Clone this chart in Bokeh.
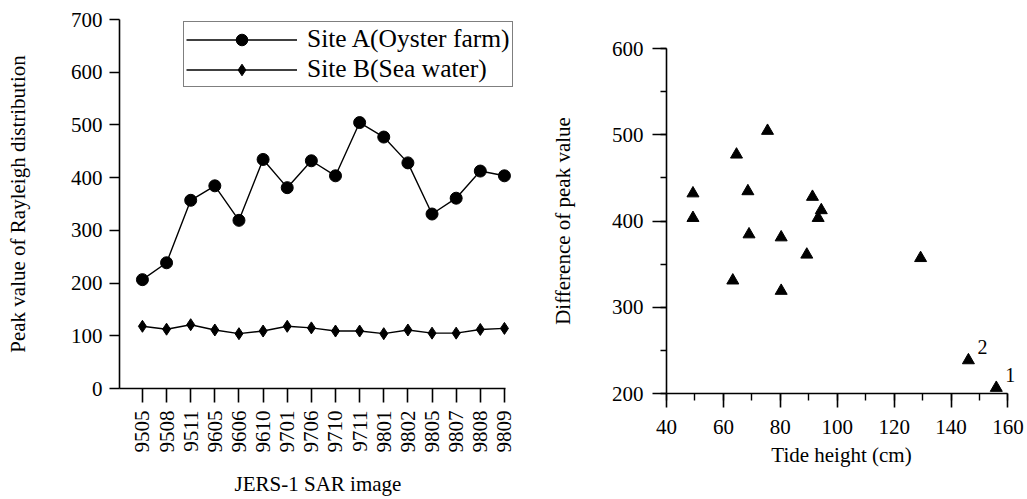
import math
from bokeh.plotting import figure
from bokeh.layouts import row, column
from bokeh.models import (Range1d, FixedTicker, SingleIntervalTicker, Legend,
                          LegendItem, ColumnDataSource, LabelSet)
from bokeh.embed import file_html
from bokeh.resources import INLINE

# ---------------- data ----------------
dates = ["9505", "9508", "9511", "9605", "9606", "9610", "9701", "9706",
         "9710", "9711", "9801", "9802", "9805", "9807", "9808", "9809"]
site_a = [206.5, 238.5, 357, 384.5, 319, 434.5, 381, 432,
          403.5, 504.5, 477, 428, 331, 361, 412.5, 403.5]
site_b = [118, 112.5, 121, 111, 104, 109, 118, 115,
          109, 109, 104, 111, 105, 105, 112, 114]
tide_height = [155.9, 146.1, 129.3, 69.0, 80.3, 68.6, 80.3, 49.3,
               49.3, 75.5, 64.6, 91.3, 63.3, 89.3, 94.4, 93.3]
marked_points = ["1", "2"]

FONT = "'Liberation Serif'"
TICK_FS = "21px"
LABEL_FS = "21px"


def style_axis(ax):
    ax.axis_line_color = "black"
    ax.axis_line_width = 1.6
    ax.major_tick_line_color = "black"
    ax.major_tick_line_width = 1.6
    ax.minor_tick_line_color = "black"
    ax.minor_tick_line_width = 1.4
    ax.major_tick_in = 0
    ax.minor_tick_in = 0
    ax.major_label_text_font = FONT
    ax.major_label_text_font_size = TICK_FS
    ax.major_label_text_color = "black"
    ax.axis_label_text_font = FONT
    ax.axis_label_text_font_size = LABEL_FS
    ax.axis_label_text_font_style = "normal"
    ax.axis_label_text_color = "black"


# ---------------- left chart ----------------
x_idx = list(range(len(dates)))
src = ColumnDataSource(dict(x=x_idx, a=site_a, b=site_b))

p1 = figure(width=520, height=499, x_range=Range1d(-0.95, 15.5),
            y_range=Range1d(0, 700), output_backend="svg",
            toolbar_location=None, min_border_left=119, min_border_right=4,
            min_border_top=19, min_border_bottom=111)
p1.outline_line_color = None
p1.xgrid.visible = False
p1.ygrid.visible = False

la = p1.line("x", "a", source=src, line_color="black", line_width=1.4)
sa = p1.scatter("x", "a", source=src, marker="circle", size=12,
                fill_color="black", line_color="black")
lb = p1.line("x", "b", source=src, line_color="black", line_width=1.4)
sb = p1.scatter("x", "b", source=src, marker="diamond", size=12,
                fill_color="black", line_color="black")

p1.xaxis.ticker = FixedTicker(ticks=x_idx, minor_ticks=[])
p1.xaxis.major_label_overrides = {i: d for i, d in zip(x_idx, dates)}
p1.xaxis.major_label_orientation = math.pi / 2
p1.xaxis.bounds = (-0.95, 15.05)
p1.yaxis.ticker = FixedTicker(ticks=list(range(0, 701, 100)), minor_ticks=[])
for ax in (p1.xaxis[0], p1.yaxis[0]):
    style_axis(ax)
p1.xaxis.major_tick_out = 14
p1.yaxis.major_tick_out = 10
p1.xaxis.major_label_standoff = 8
p1.yaxis.major_label_standoff = 7
p1.xaxis.axis_label = "JERS-1 SAR image"
p1.yaxis.axis_label = "Peak value of Rayleigh distribution"
p1.xaxis.axis_label_standoff = 16
p1.yaxis.axis_label_standoff = 38

legend = Legend(items=[
    LegendItem(label="Site A(Oyster farm)", renderers=[la, sa]),
    LegendItem(label="Site B(Sea water)", renderers=[lb, sb]),
], location=(64, 301))
legend.label_text_font = FONT
legend.label_text_font_size = "25.5px"
legend.label_text_line_height = 1.0
legend.label_text_color = "black"
legend.glyph_width = 111
legend.glyph_height = 29
legend.label_height = 27
legend.label_standoff = 10
legend.padding = 2
legend.spacing = 0
legend.margin = 0
legend.border_line_color = "black"
legend.border_line_width = 1.6
legend.background_fill_color = "white"
legend.background_fill_alpha = 1
p1.add_layout(legend, "center")

# ---------------- right chart ----------------
src2 = ColumnDataSource(dict(x=tide_height, y=site_a))
p2 = figure(width=507, height=499, x_range=Range1d(40, 163),
            y_range=Range1d(200, 600), output_backend="svg",
            toolbar_location=None, min_border_left=146, min_border_right=11,
            min_border_top=48, min_border_bottom=106)
p2.outline_line_color = None
p2.xgrid.visible = False
p2.ygrid.visible = False
p2.scatter("x", "y", source=src2, marker="triangle", size=12,
           fill_color="black", line_color="black")

lab_src = ColumnDataSource(dict(x=tide_height[:2], y=site_a[:2],
                                t=marked_points))
p2.add_layout(LabelSet(x="x", y="y", text="t", source=lab_src,
                       x_offset=14, y_offset=13, text_font=FONT,
                       text_font_size="20px", text_color="black",
                       text_align="center", text_baseline="middle"))

p2.xaxis.ticker = SingleIntervalTicker(interval=20, num_minor_ticks=2)
p2.yaxis.ticker = SingleIntervalTicker(interval=100, num_minor_ticks=2)
p2.xaxis.bounds = (40, 160)
for ax in (p2.xaxis[0], p2.yaxis[0]):
    style_axis(ax)
p2.xaxis.major_tick_out = 14
p2.xaxis.minor_tick_out = 7
p2.yaxis.major_tick_out = 14
p2.yaxis.minor_tick_out = 6
p2.xaxis.major_label_standoff = 12
p2.yaxis.major_label_standoff = 9
p2.xaxis.axis_label = "Tide height (cm)"
p2.yaxis.axis_label = "Difference of peak value"
p2.xaxis.axis_label_standoff = 6
p2.yaxis.axis_label_standoff = 34

layout = row(column(p1), column(p2))
open("out.html", "w").write(file_html(layout, INLINE))
